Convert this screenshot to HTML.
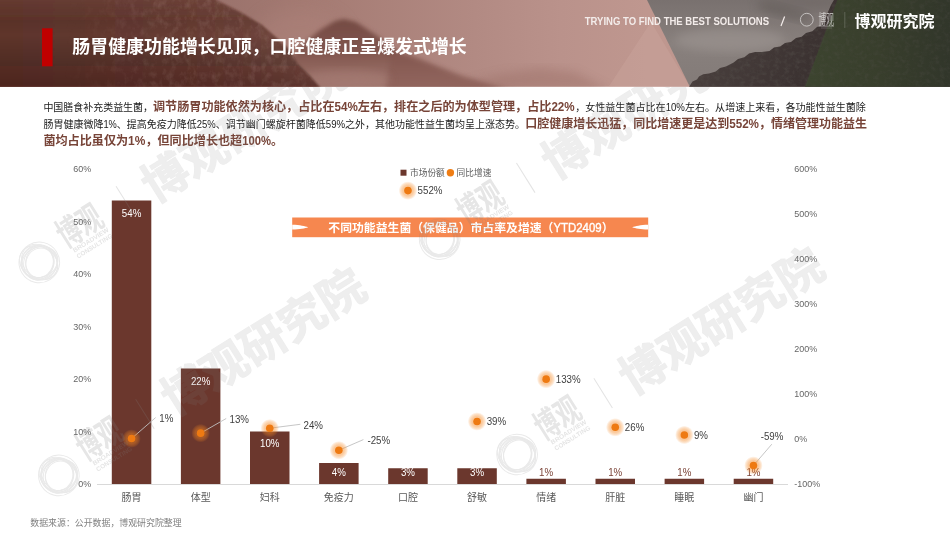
<!DOCTYPE html>
<html lang="zh-CN">
<head>
<meta charset="utf-8">
<title>肠胃健康功能增长见顶，口腔健康正呈爆发式增长</title>
<style>
html,body{margin:0;padding:0;background:#fff;}
body{width:950px;height:535px;overflow:hidden;font-family:"Liberation Sans","Noto Sans CJK SC",sans-serif;}
svg{display:block;will-change:transform}
svg text{font-family:"Liberation Sans","Noto Sans CJK SC",sans-serif;}
</style>
</head>
<body>
<svg width="950" height="535" viewBox="0 0 950 535">
<defs>

<linearGradient id="hbg" x1="0" y1="0" x2="950" y2="0" gradientUnits="userSpaceOnUse">
<stop offset="0" stop-color="#66392f"/><stop offset="0.2" stop-color="#97706a"/><stop offset="0.32" stop-color="#a47a72"/><stop offset="0.5" stop-color="#b28a83"/><stop offset="0.59" stop-color="#ba928b"/><stop offset="0.68" stop-color="#bf978f"/></linearGradient>
<linearGradient id="mm" x1="0" y1="19" x2="0" y2="90" gradientUnits="userSpaceOnUse"><stop offset="0" stop-color="#744a43" stop-opacity="1"/><stop offset="0.5" stop-color="#80554d" stop-opacity="0.92"/><stop offset="1" stop-color="#966b63" stop-opacity="0.45"/></linearGradient>
<filter id="tex" x="0" y="0" width="100%" height="100%"><feTurbulence type="fractalNoise" baseFrequency="0.16 0.11" numOctaves="4" seed="11"/><feColorMatrix type="matrix" values="0 0 0 0 0.8  0 0 0 0 0.63  0 0 0 0 0.57  1.7 0 0 0 -0.72"/><feGaussianBlur stdDeviation="0.5"/></filter>
<filter id="texd" x="0" y="0" width="100%" height="100%"><feTurbulence type="fractalNoise" baseFrequency="0.2 0.25" numOctaves="4" seed="3"/><feColorMatrix type="matrix" values="0 0 0 0 0.1  0 0 0 0 0.09  0 0 0 0 0.08  1.8 0 0 0 -0.75"/><feGaussianBlur stdDeviation="0.4"/></filter>
<linearGradient id="lmfade" x1="60" y1="0" x2="330" y2="0" gradientUnits="userSpaceOnUse"><stop offset="0" stop-color="#fff" stop-opacity="0"/><stop offset="0.4" stop-color="#fff" stop-opacity="1"/><stop offset="0.85" stop-color="#fff" stop-opacity="1"/><stop offset="1" stop-color="#fff" stop-opacity="0.3"/></linearGradient>
<mask id="lmmask"><rect x="0" y="0" width="330" height="87" fill="url(#lmfade)"/></mask>
<clipPath id="lmclip"><path d="M0 0 L216 0 L241 12.6 L262 25 L277 38 L290 50 L297 63 L310 76 L320 87 L0 87 Z"/></clipPath>
<clipPath id="rmclip"><path d="M689 87 L692.5 81.4 L697 79.5 L699 76.5 L703.3 74.3 L709 73.5 L715.8 71.6 L720 68 L726 66.5 L733.7 62.6 L738 59 L744.4 57.3 L749 53.5 L755.2 51.9 L762 52 L769.5 51 L774 47.5 L780.2 46.5 L785 43 L791 42 L796 38 L801.7 36.7 L806 33 L812.4 31.3 L817 27 L823.2 25 L826 17 L828.5 10.7 L831 5 L833.9 0 L838 0 L805 87 Z"/></clipPath>
<clipPath id="grclip"><path d="M837.4 0 L950 0 L950 87 L804.8 87 Z"/></clipPath>
<linearGradient id="hdark" x1="0" y1="0" x2="0" y2="87" gradientUnits="userSpaceOnUse">
<stop offset="0" stop-color="#8a5a50" stop-opacity="0.15"/><stop offset="0.4" stop-color="#000" stop-opacity="0"/><stop offset="1" stop-color="#2a0f0a" stop-opacity="0.3"/></linearGradient>
<linearGradient id="lm" x1="0" y1="0" x2="330" y2="0" gradientUnits="userSpaceOnUse">
<stop offset="0" stop-color="#5e352c"/><stop offset="0.55" stop-color="#663b32"/><stop offset="0.8" stop-color="#6e443b"/><stop offset="1" stop-color="#7a5047"/></linearGradient>
<linearGradient id="sky" x1="0" y1="0" x2="0" y2="87" gradientUnits="userSpaceOnUse">
<stop offset="0" stop-color="#79716f"/><stop offset="0.5" stop-color="#88807d"/><stop offset="1" stop-color="#837b78"/></linearGradient>
<linearGradient id="slope" x1="700" y1="40" x2="800" y2="87" gradientUnits="userSpaceOnUse"><stop offset="0" stop-color="#4a403e"/><stop offset="1" stop-color="#3b3231"/></linearGradient>
<linearGradient id="grn" x1="810" y1="0" x2="950" y2="0" gradientUnits="userSpaceOnUse"><stop offset="0" stop-color="#3c442f"/><stop offset="0.5" stop-color="#383e2c"/><stop offset="1" stop-color="#31362a"/></linearGradient>
<radialGradient id="glow"><stop offset="0" stop-color="#f5861f" stop-opacity="0.5"/><stop offset="0.55" stop-color="#f5861f" stop-opacity="0.44"/><stop offset="0.8" stop-color="#f5861f" stop-opacity="0.24"/><stop offset="1" stop-color="#f5861f" stop-opacity="0"/></radialGradient>
<filter id="b1" x="-20%" y="-20%" width="140%" height="140%"><feGaussianBlur stdDeviation="1.2"/></filter>
<filter id="b2" x="-20%" y="-20%" width="140%" height="140%"><feGaussianBlur stdDeviation="2"/></filter>
<filter id="b5" x="-20%" y="-20%" width="140%" height="140%"><feGaussianBlur stdDeviation="5"/></filter>
<filter id="b9" x="-30%" y="-30%" width="160%" height="160%"><feGaussianBlur stdDeviation="9"/></filter>
<clipPath id="wmclip"><rect x="0" y="86.8" width="950" height="449"/></clipPath>
<clipPath id="hclip"><rect x="0" y="0" width="950" height="86.8"/></clipPath>
</defs>
<g id="header" clip-path="url(#hclip)"><rect x="0" y="0" width="950" height="87" fill="url(#hbg)"/><ellipse cx="300" cy="40" rx="45" ry="30" fill="#ad837b" opacity="0.5" filter="url(#b9)"/><path d="M270 90 L290 60 L303 44 L320 30 L335 21 L344 19 L356 22 L376 35 L401 54 L433 66 L464 79 L505 90 Z" fill="url(#mm)" filter="url(#b2)"/><path d="M440 90 L500 74 L540 68 L575 72 L610 90 Z" fill="#9b7068" opacity="0.45" filter="url(#b5)"/><path d="M385 92 L392 50 L410 54 L433 64 L464 76 L497 86 L520 92 Z" fill="#83574f" opacity="0.55" filter="url(#b2)"/><ellipse cx="345" cy="80" rx="45" ry="10" fill="#a98078" opacity="0.55" filter="url(#b5)"/><path d="M-10 -10 L212 -10 L216 0 L241 12.6 L262 25 L277 38 L290 50 L297 63 L310 76 L324 92 L-10 92 Z" fill="url(#lm)" filter="url(#b1)"/><path d="M-10 -10 L212 -10 L216 0 L241 12.6 L262 25 L277 38 L290 50 L297 63 L310 76 L324 92 L-10 92 Z" fill="url(#hdark)" filter="url(#b1)"/><g clip-path="url(#lmclip)"><rect x="0" y="0" width="330" height="87" filter="url(#tex)" opacity="0.17" mask="url(#lmmask)"/></g><path d="M647 0 L950 0 L950 87 L690 87 Z" fill="url(#sky)"/><ellipse cx="730" cy="40" rx="55" ry="12" fill="#9d9592" opacity="0.6" filter="url(#b5)"/><ellipse cx="785" cy="12" rx="28" ry="6" fill="#625b59" opacity="0.6" filter="url(#b5)" transform="rotate(14 785 12)"/><ellipse cx="800" cy="3" rx="45" ry="7" fill="#6a6361" opacity="0.45" filter="url(#b5)"/><path d="M651 22 L608.5 87 L690 87 Z" fill="#cfa8a1" opacity="0.35"/><path d="M689 87 L692.5 81.4 L697 79.5 L699 76.5 L703.3 74.3 L709 73.5 L715.8 71.6 L720 68 L726 66.5 L733.7 62.6 L738 59 L744.4 57.3 L749 53.5 L755.2 51.9 L762 52 L769.5 51 L774 47.5 L780.2 46.5 L785 43 L791 42 L796 38 L801.7 36.7 L806 33 L812.4 31.3 L817 27 L823.2 25 L826 17 L828.5 10.7 L831 5 L833.9 0 L950 0 L950 87 Z" fill="url(#slope)"/><rect x="680" y="0" width="270" height="87" filter="url(#texd)" opacity="0.5" clip-path="url(#rmclip)"/><path d="M837.4 0 L950 0 L950 87 L804.8 87 Z" fill="url(#grn)"/><rect x="800" y="0" width="150" height="87" filter="url(#texd)" opacity="0.3" clip-path="url(#grclip)"/></g><rect x="42" y="28.3" width="10.6" height="38" fill="#c00000"/><g id="title" role="heading"><text x="72.3" y="52.9" font-size="17.93" font-weight="bold" fill="#fff" textLength="394.5">肠胃健康功能增长见顶，口腔健康正呈爆发式增长</text></g><text x="584.7" y="25" font-size="10.2" fill="#f3ecea" font-weight="bold" textLength="184.4" lengthAdjust="spacingAndGlyphs">TRYING TO FIND THE BEST SOLUTIONS</text><line x1="781" y1="26" x2="784.6" y2="16.5" stroke="#f3ecea" stroke-width="1.2"/><g id="logo" opacity="0.62" stroke="#fff" fill="none"><circle cx="806.8" cy="19.7" r="6.4" stroke-width="0.9"/><line x1="818.6" y1="26.1" x2="834" y2="26.1" stroke-width="0.7"/><line x1="821" y1="28" x2="832" y2="28" stroke-width="0.6" opacity="0.5"/><line x1="844.8" y1="12" x2="844.8" y2="28" stroke-width="0.5" opacity="0.6"/></g><text transform="translate(818.6 24.2) scale(0.5704 1)" font-size="13.5" fill="#fff" opacity="0.62">博观</text><text x="854.4" y="27.1" font-size="16" font-weight="bold" fill="#fff" textLength="80.2">博观研究院</text><g id="para"><g><text x="43.4" y="110.9" font-size="9.97" fill="#1a1a1a" textLength="109.6">中国膳食补充类益生菌，</text><text x="153" y="110.9" font-size="12.1" font-weight="bold" fill="#774438" textLength="181.5">调节肠胃功能依然为核心，占比在</text><text x="334.5" y="110.9" font-size="12.1" font-weight="bold" fill="#774438" textLength="23.3" lengthAdjust="spacingAndGlyphs">54%</text><text x="357.8" y="110.9" font-size="12.1" font-weight="bold" fill="#774438" textLength="193.6">左右，排在之后的为体型管理，占比</text><text x="551.4" y="110.9" font-size="12.1" font-weight="bold" fill="#774438" textLength="23.3" lengthAdjust="spacingAndGlyphs">22%</text><text x="575.2" y="110.9" font-size="10.05" fill="#1a1a1a" textLength="90.4">，女性益生菌占比在</text><text x="665.65" y="110.9" font-size="10.05" fill="#1a1a1a" textLength="19.3" lengthAdjust="spacingAndGlyphs">10%</text><text x="684.95" y="110.9" font-size="10.05" fill="#1a1a1a" textLength="180.9">左右。从增速上来看，各功能性益生菌除</text></g><g><text x="43.4" y="128.4" font-size="10" fill="#1a1a1a" textLength="60">肠胃健康微降</text><text x="103.4" y="128.4" font-size="10" fill="#1a1a1a" textLength="13.4" lengthAdjust="spacingAndGlyphs">1%</text><text x="116.8" y="128.4" font-size="10" fill="#1a1a1a" textLength="80">、提高免疫力降低</text><text x="196.8" y="128.4" font-size="10" fill="#1a1a1a" textLength="19" lengthAdjust="spacingAndGlyphs">25%</text><text x="215.8" y="128.4" font-size="10" fill="#1a1a1a" textLength="110">、调节幽门螺旋杆菌降低</text><text x="325.8" y="128.4" font-size="10" fill="#1a1a1a" textLength="19.3" lengthAdjust="spacingAndGlyphs">59%</text><text x="345.1" y="128.4" font-size="10" fill="#1a1a1a" textLength="180">之外，其他功能性益生菌均呈上涨态势。</text><text x="525.2" y="128.4" font-size="12" font-weight="bold" fill="#774438" textLength="204">口腔健康增长迅猛，同比增速更是达到</text><text x="729.2" y="128.4" font-size="12" font-weight="bold" fill="#774438" textLength="29.8" lengthAdjust="spacingAndGlyphs">552%</text><text x="759" y="128.4" font-size="12" font-weight="bold" fill="#774438" textLength="108">，情绪管理功能益生</text></g><g><text x="43.4" y="144.5" font-size="12.1" font-weight="bold" fill="#774438" textLength="84.7">菌均占比虽仅为</text><text x="128.1" y="144.5" font-size="12.1" font-weight="bold" fill="#774438" textLength="17.3" lengthAdjust="spacingAndGlyphs">1%</text><text x="145.4" y="144.5" font-size="12.1" font-weight="bold" fill="#774438" textLength="96.8">，但同比增长也超</text><text x="242.2" y="144.5" font-size="12.1" font-weight="bold" fill="#774438" textLength="28.8" lengthAdjust="spacingAndGlyphs">100%</text><text x="271" y="144.5" font-size="12.1" font-weight="bold" fill="#774438">。</text></g></g><g id="chart"><text x="78.23" y="487" font-size="9.4" fill="#666666" textLength="12.97" lengthAdjust="spacingAndGlyphs">0%</text><text x="73.23" y="434.5" font-size="9.4" fill="#666666" textLength="17.97" lengthAdjust="spacingAndGlyphs">10%</text><text x="73.23" y="382" font-size="9.4" fill="#666666" textLength="17.97" lengthAdjust="spacingAndGlyphs">20%</text><text x="73.23" y="329.5" font-size="9.4" fill="#666666" textLength="17.97" lengthAdjust="spacingAndGlyphs">30%</text><text x="73.23" y="277" font-size="9.4" fill="#666666" textLength="17.97" lengthAdjust="spacingAndGlyphs">40%</text><text x="73.23" y="224.5" font-size="9.4" fill="#666666" textLength="17.97" lengthAdjust="spacingAndGlyphs">50%</text><text x="73.23" y="172" font-size="9.4" fill="#666666" textLength="17.97" lengthAdjust="spacingAndGlyphs">60%</text><text x="794.2" y="487" font-size="9.4" fill="#666666" textLength="25.95" lengthAdjust="spacingAndGlyphs">-100%</text><text x="794.2" y="442" font-size="9.4" fill="#666666" textLength="12.97" lengthAdjust="spacingAndGlyphs">0%</text><text x="794.2" y="397" font-size="9.4" fill="#666666" textLength="22.96" lengthAdjust="spacingAndGlyphs">100%</text><text x="794.2" y="352" font-size="9.4" fill="#666666" textLength="22.96" lengthAdjust="spacingAndGlyphs">200%</text><text x="794.2" y="307" font-size="9.4" fill="#666666" textLength="22.96" lengthAdjust="spacingAndGlyphs">300%</text><text x="794.2" y="262" font-size="9.4" fill="#666666" textLength="22.96" lengthAdjust="spacingAndGlyphs">400%</text><text x="794.2" y="217" font-size="9.4" fill="#666666" textLength="22.96" lengthAdjust="spacingAndGlyphs">500%</text><text x="794.2" y="172" font-size="9.4" fill="#666666" textLength="22.96" lengthAdjust="spacingAndGlyphs">600%</text><rect x="111.8" y="200.5" width="39.5" height="283.5" fill="#6b372d"/><rect x="180.9" y="368.5" width="39.5" height="115.5" fill="#6b372d"/><rect x="250" y="431.5" width="39.5" height="52.5" fill="#6b372d"/><rect x="319.1" y="463" width="39.5" height="21" fill="#6b372d"/><rect x="388.2" y="468.25" width="39.5" height="15.75" fill="#6b372d"/><rect x="457.3" y="468.25" width="39.5" height="15.75" fill="#6b372d"/><rect x="526.4" y="478.75" width="39.5" height="5.25" fill="#6b372d"/><rect x="595.5" y="478.75" width="39.5" height="5.25" fill="#6b372d"/><rect x="664.6" y="478.75" width="39.5" height="5.25" fill="#6b372d"/><rect x="733.7" y="478.75" width="39.5" height="5.25" fill="#6b372d"/><line x1="97" y1="484.5" x2="788" y2="484.5" stroke="#d9d9d9" stroke-width="1"/><text x="121.8" y="216.8" font-size="10.2" fill="#fff" textLength="19.5" lengthAdjust="spacingAndGlyphs">54%</text><text x="190.9" y="384.8" font-size="10.2" fill="#fff" textLength="19.5" lengthAdjust="spacingAndGlyphs">22%</text><text x="260" y="447.1" font-size="10.2" fill="#fff" textLength="19.5" lengthAdjust="spacingAndGlyphs">10%</text><text x="331.81" y="476.4" font-size="10.2" fill="#fff" textLength="14.08" lengthAdjust="spacingAndGlyphs">4%</text><text x="400.91" y="476.4" font-size="10.2" fill="#fff" textLength="14.08" lengthAdjust="spacingAndGlyphs">3%</text><text x="470.01" y="476.4" font-size="10.2" fill="#fff" textLength="14.08" lengthAdjust="spacingAndGlyphs">3%</text><text x="539.11" y="476.4" font-size="10.2" fill="#7a4236" textLength="14.08" lengthAdjust="spacingAndGlyphs">1%</text><text x="608.21" y="476.4" font-size="10.2" fill="#7a4236" textLength="14.08" lengthAdjust="spacingAndGlyphs">1%</text><text x="677.31" y="476.4" font-size="10.2" fill="#7a4236" textLength="14.08" lengthAdjust="spacingAndGlyphs">1%</text><text x="746.41" y="476.4" font-size="10.2" fill="#7a4236" textLength="14.08" lengthAdjust="spacingAndGlyphs">1%</text><text x="121.55" y="500.5" font-size="10" fill="#595959">肠胃</text><text x="190.65" y="500.5" font-size="10" fill="#595959">体型</text><text x="259.75" y="500.5" font-size="10" fill="#595959">妇科</text><text x="323.85" y="500.5" font-size="10" fill="#595959">免疫力</text><text x="397.95" y="500.5" font-size="10" fill="#595959">口腔</text><text x="467.05" y="500.5" font-size="10" fill="#595959">舒敏</text><text x="536.15" y="500.5" font-size="10" fill="#595959">情绪</text><text x="605.25" y="500.5" font-size="10" fill="#595959">肝脏</text><text x="674.35" y="500.5" font-size="10" fill="#595959">睡眠</text><text x="743.45" y="500.5" font-size="10" fill="#595959">幽门</text><line x1="131.55" y1="438.55" x2="155.6" y2="417.6" stroke="#bfbfbf" stroke-width="0.9"/><line x1="200.65" y1="433.15" x2="226.2" y2="418.5" stroke="#bfbfbf" stroke-width="0.9"/><line x1="269.75" y1="428.2" x2="300.3" y2="424.3" stroke="#bfbfbf" stroke-width="0.9"/><line x1="338.85" y1="450.25" x2="363.4" y2="439.6" stroke="#bfbfbf" stroke-width="0.9"/><line x1="753.45" y1="465.55" x2="771.8" y2="444.2" stroke="#bfbfbf" stroke-width="0.9"/><circle cx="131.55" cy="438.55" r="9.3" fill="url(#glow)"/><circle cx="131.55" cy="438.55" r="3.8" fill="#ee7a12"/><circle cx="200.65" cy="433.15" r="9.3" fill="url(#glow)"/><circle cx="200.65" cy="433.15" r="3.8" fill="#ee7a12"/><circle cx="269.75" cy="428.2" r="9.3" fill="url(#glow)"/><circle cx="269.75" cy="428.2" r="3.8" fill="#ee7a12"/><circle cx="338.85" cy="450.25" r="9.3" fill="url(#glow)"/><circle cx="338.85" cy="450.25" r="3.8" fill="#ee7a12"/><circle cx="407.95" cy="190.6" r="9.3" fill="url(#glow)"/><circle cx="407.95" cy="190.6" r="3.8" fill="#ee7a12"/><circle cx="477.05" cy="421.45" r="9.3" fill="url(#glow)"/><circle cx="477.05" cy="421.45" r="3.8" fill="#ee7a12"/><circle cx="546.15" cy="379.15" r="9.3" fill="url(#glow)"/><circle cx="546.15" cy="379.15" r="3.8" fill="#ee7a12"/><circle cx="615.25" cy="427.3" r="9.3" fill="url(#glow)"/><circle cx="615.25" cy="427.3" r="3.8" fill="#ee7a12"/><circle cx="684.35" cy="434.95" r="9.3" fill="url(#glow)"/><circle cx="684.35" cy="434.95" r="3.8" fill="#ee7a12"/><circle cx="753.45" cy="465.55" r="9.3" fill="url(#glow)"/><circle cx="753.45" cy="465.55" r="3.8" fill="#ee7a12"/><text x="159.3" y="421.8" font-size="10.2" fill="#404040" textLength="14.08" lengthAdjust="spacingAndGlyphs">1%</text><text x="229.5" y="422.5" font-size="10.2" fill="#404040" textLength="19.5" lengthAdjust="spacingAndGlyphs">13%</text><text x="303.5" y="428.8" font-size="10.2" fill="#404040" textLength="19.5" lengthAdjust="spacingAndGlyphs">24%</text><text x="367.4" y="444" font-size="10.2" fill="#404040" textLength="22.74" lengthAdjust="spacingAndGlyphs">-25%</text><text x="417.55" y="194.2" font-size="10.2" fill="#404040" textLength="24.91" lengthAdjust="spacingAndGlyphs">552%</text><text x="486.65" y="425.05" font-size="10.2" fill="#404040" textLength="19.5" lengthAdjust="spacingAndGlyphs">39%</text><text x="555.75" y="382.75" font-size="10.2" fill="#404040" textLength="24.91" lengthAdjust="spacingAndGlyphs">133%</text><text x="624.85" y="430.9" font-size="10.2" fill="#404040" textLength="19.5" lengthAdjust="spacingAndGlyphs">26%</text><text x="693.95" y="438.55" font-size="10.2" fill="#404040" textLength="14.08" lengthAdjust="spacingAndGlyphs">9%</text><text x="760.7" y="439.9" font-size="10.2" fill="#404040" textLength="22.74" lengthAdjust="spacingAndGlyphs">-59%</text><rect x="400.5" y="169.7" width="6" height="6" fill="#6b372d"/><text x="410" y="175.9" font-size="8.7" fill="#595959">市场份额</text><circle cx="450.4" cy="172.8" r="3.7" fill="#ef7d14"/><text x="456.6" y="175.9" font-size="8.7" fill="#595959">同比增速</text><rect x="292.2" y="217.5" width="356" height="19.7" fill="#f6874f"/><path d="M292.2 224.7 C300 224.9 305 226 308.2 227.2 C305 228.4 300 229.4 292.2 229.6 Z" fill="#fff"/><path d="M648.2 224.7 C640.4 224.9 635.4 226 632.2 227.2 C635.4 228.4 640.4 229.4 648.2 229.6 Z" fill="#fff"/><g><text x="328.3" y="231.6" font-size="11.85" font-weight="bold" fill="#fff" textLength="225.15">不同功能益生菌（保健品）市占率及增速（</text><text x="553.45" y="231.6" font-size="11.85" fill="#fff" textLength="48.2" lengthAdjust="spacingAndGlyphs" stroke="#fff" stroke-width="0.35">YTD2409</text><text x="601.65" y="231.6" font-size="11.85" font-weight="bold" fill="#fff">）</text></g></g><text x="30.3" y="525.8" font-size="8.9" fill="#7f7f7f" textLength="151.3">数据来源：公开数据，博观研究院整理</text><g id="watermarks" aria-hidden="true" clip-path="url(#wmclip)"><g transform="translate(39.3 262.4) rotate(-32)" fill="#808080" stroke="none"><g fill="none" stroke="#808080" stroke-width="0.95" opacity="0.17"><ellipse cx="0" cy="0" rx="18.5" ry="16.5" transform="rotate(20)"/><ellipse cx="0.5" cy="0" rx="16" ry="19.5" transform="rotate(-15)"/><ellipse cx="-0.5" cy="0.5" rx="20" ry="16" transform="rotate(60)"/><ellipse cx="0" cy="-0.5" rx="15" ry="18.5" transform="rotate(100)"/><ellipse cx="0.3" cy="0.3" rx="17.5" ry="15" transform="rotate(140)"/><ellipse cx="0.4" cy="-0.3" rx="14" ry="15.6" transform="rotate(40)"/><ellipse cx="-0.3" cy="0.4" rx="15.2" ry="13.4" transform="rotate(-30)"/><circle cx="0" cy="0" r="20.3"/><circle cx="0" cy="0" r="17.6" stroke-width="1.2"/></g><text transform="translate(30 2.5) scale(0.691 1)" font-size="34" font-weight="bold" opacity="0.2">博观</text><g opacity="0.21" font-size="6.3" font-weight="bold"><text x="35" y="10.5" textLength="41" lengthAdjust="spacingAndGlyphs">BROADVIEW</text><text x="35" y="17.5" textLength="41" lengthAdjust="spacingAndGlyphs">CONSULTING</text></g><line x1="105.5" y1="-24" x2="105.5" y2="11" stroke="#808080" stroke-width="1" opacity="0.22"/><text x="129" y="11.5" font-size="46" font-weight="bold" opacity="0.137" stroke="#808080" stroke-width="1" textLength="230">博观研究院</text></g><g transform="translate(58.9 475.4) rotate(-32)" fill="#808080" stroke="none"><g fill="none" stroke="#808080" stroke-width="0.95" opacity="0.17"><ellipse cx="0" cy="0" rx="18.5" ry="16.5" transform="rotate(20)"/><ellipse cx="0.5" cy="0" rx="16" ry="19.5" transform="rotate(-15)"/><ellipse cx="-0.5" cy="0.5" rx="20" ry="16" transform="rotate(60)"/><ellipse cx="0" cy="-0.5" rx="15" ry="18.5" transform="rotate(100)"/><ellipse cx="0.3" cy="0.3" rx="17.5" ry="15" transform="rotate(140)"/><ellipse cx="0.4" cy="-0.3" rx="14" ry="15.6" transform="rotate(40)"/><ellipse cx="-0.3" cy="0.4" rx="15.2" ry="13.4" transform="rotate(-30)"/><circle cx="0" cy="0" r="20.3"/><circle cx="0" cy="0" r="17.6" stroke-width="1.2"/></g><text transform="translate(30 2.5) scale(0.691 1)" font-size="34" font-weight="bold" opacity="0.2">博观</text><g opacity="0.21" font-size="6.3" font-weight="bold"><text x="35" y="10.5" textLength="41" lengthAdjust="spacingAndGlyphs">BROADVIEW</text><text x="35" y="17.5" textLength="41" lengthAdjust="spacingAndGlyphs">CONSULTING</text></g><line x1="105.5" y1="-24" x2="105.5" y2="11" stroke="#808080" stroke-width="1" opacity="0.22"/><text x="129" y="11.5" font-size="46" font-weight="bold" opacity="0.137" stroke="#808080" stroke-width="1" textLength="230">博观研究院</text></g><g transform="translate(439.7 239.2) rotate(-32)" fill="#808080" stroke="none"><g fill="none" stroke="#808080" stroke-width="0.95" opacity="0.17"><ellipse cx="0" cy="0" rx="18.5" ry="16.5" transform="rotate(20)"/><ellipse cx="0.5" cy="0" rx="16" ry="19.5" transform="rotate(-15)"/><ellipse cx="-0.5" cy="0.5" rx="20" ry="16" transform="rotate(60)"/><ellipse cx="0" cy="-0.5" rx="15" ry="18.5" transform="rotate(100)"/><ellipse cx="0.3" cy="0.3" rx="17.5" ry="15" transform="rotate(140)"/><ellipse cx="0.4" cy="-0.3" rx="14" ry="15.6" transform="rotate(40)"/><ellipse cx="-0.3" cy="0.4" rx="15.2" ry="13.4" transform="rotate(-30)"/><circle cx="0" cy="0" r="20.3"/><circle cx="0" cy="0" r="17.6" stroke-width="1.2"/></g><text transform="translate(30 2.5) scale(0.691 1)" font-size="34" font-weight="bold" opacity="0.2">博观</text><g opacity="0.21" font-size="6.3" font-weight="bold"><text x="35" y="10.5" textLength="41" lengthAdjust="spacingAndGlyphs">BROADVIEW</text><text x="35" y="17.5" textLength="41" lengthAdjust="spacingAndGlyphs">CONSULTING</text></g><line x1="105.5" y1="-24" x2="105.5" y2="11" stroke="#808080" stroke-width="1" opacity="0.22"/><text x="129" y="11.5" font-size="46" font-weight="bold" opacity="0.137" stroke="#808080" stroke-width="1" textLength="230">博观研究院</text></g><g transform="translate(517.1 454.5) rotate(-32)" fill="#808080" stroke="none"><g fill="none" stroke="#808080" stroke-width="0.95" opacity="0.17"><ellipse cx="0" cy="0" rx="18.5" ry="16.5" transform="rotate(20)"/><ellipse cx="0.5" cy="0" rx="16" ry="19.5" transform="rotate(-15)"/><ellipse cx="-0.5" cy="0.5" rx="20" ry="16" transform="rotate(60)"/><ellipse cx="0" cy="-0.5" rx="15" ry="18.5" transform="rotate(100)"/><ellipse cx="0.3" cy="0.3" rx="17.5" ry="15" transform="rotate(140)"/><ellipse cx="0.4" cy="-0.3" rx="14" ry="15.6" transform="rotate(40)"/><ellipse cx="-0.3" cy="0.4" rx="15.2" ry="13.4" transform="rotate(-30)"/><circle cx="0" cy="0" r="20.3"/><circle cx="0" cy="0" r="17.6" stroke-width="1.2"/></g><text transform="translate(30 2.5) scale(0.691 1)" font-size="34" font-weight="bold" opacity="0.2">博观</text><g opacity="0.21" font-size="6.3" font-weight="bold"><text x="35" y="10.5" textLength="41" lengthAdjust="spacingAndGlyphs">BROADVIEW</text><text x="35" y="17.5" textLength="41" lengthAdjust="spacingAndGlyphs">CONSULTING</text></g><line x1="105.5" y1="-24" x2="105.5" y2="11" stroke="#808080" stroke-width="1" opacity="0.22"/><text x="129" y="11.5" font-size="46" font-weight="bold" opacity="0.137" stroke="#808080" stroke-width="1" textLength="230">博观研究院</text></g></g>
</svg>
</body>
</html>
